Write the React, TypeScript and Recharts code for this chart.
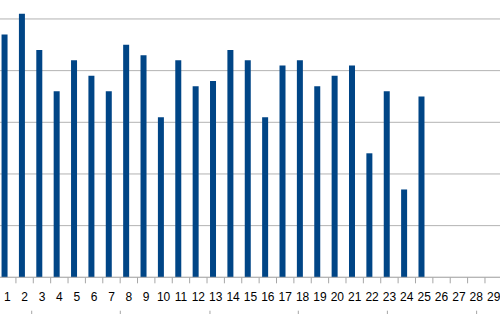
import React from "react";
import { BarChart, Bar, XAxis, YAxis, CartesianGrid } from "recharts";

const categories = ["1","2","3","4","5","6","7","8","9","10","11","12","13","14","15","16","17","18","19","20","21","22","23","24","25","26","27","28","29"];
const seriesA = [47,51,44,36,42,39,36,45,43,31,42,37,38,44,42,31,41,42,37,39,41,24,36,17,35,null,null,null,null];
const seriesB = [null,null,null,null,null,null,null,null,null,null,null,null,null,null,null,null,null,null,null,null,null,null,null,null,null,null,null,null,null];
const yTicks = [0,10,20,30,40,50,60];
const groupTicks = [1.842, 6.767, 11.75, 16.66, 21.61, 26.57];

const data = categories.map((c, i) => ({ cat: c, a: seriesA[i], b: seriesB[i] }));

const GRAY = "#b3b3b3";
const TICK_GRAY = "#a6a6a6";

const CatTick = (props: any) => {
  const { x, y, payload } = props;
  const half = payload && typeof payload.offset === "number" ? payload.offset : 0;
  return (
    <g>
      <line x1={x - half} x2={x - half} y1={y} y2={y + 6} stroke={TICK_GRAY} strokeWidth={1} />
      <text x={x} y={y + 23.4} textAnchor="middle" fontFamily="Liberation Sans" fontSize={12} fill="#000">
        {payload.value}
      </text>
    </g>
  );
};

const GrpTick = (props: any) => {
  const { x, y } = props;
  return <line x1={x} x2={x} y1={y} y2={y + 10} stroke={TICK_GRAY} strokeWidth={1} />;
};

export default function App() {
  return (
    <div style={{ position: "fixed", left: 0, top: 0, width: 500, height: 314, overflow: "hidden", background: "#fff" }}>
      <div style={{ position: "absolute", left: -20, top: -50 }}>
        <BarChart
          width={532}
          height={381}
          data={data}
          margin={{ top: 17.3, left: 18.55, right: 9.65, bottom: 0 }}
          barGap={0}
          barSize={6}
        >
          <CartesianGrid horizontal vertical={false} stroke={GRAY} />
          <XAxis
            dataKey="cat"
            height={33.4}
            interval={0}
            tickLine={false}
            tickSize={0}
            tickMargin={0}
            axisLine={{ stroke: GRAY }}
            tick={<CatTick />}
          />
          <XAxis
            xAxisId="grp"
            type="number"
            domain={[0, 28]}
            allowDataOverflow
            ticks={groupTicks}
            interval={0}
            height={20.3}
            tick={<GrpTick />}
            tickSize={0}
            tickMargin={0}
            axisLine={false}
            tickLine={false}
          />
          <YAxis hide domain={[0, 60]} ticks={yTicks} />
          <Bar dataKey="a" fill="#004586" isAnimationActive={false} />
          <Bar dataKey="b" fill="#ff420e" isAnimationActive={false} />
        </BarChart>
      </div>
    </div>
  );
}
